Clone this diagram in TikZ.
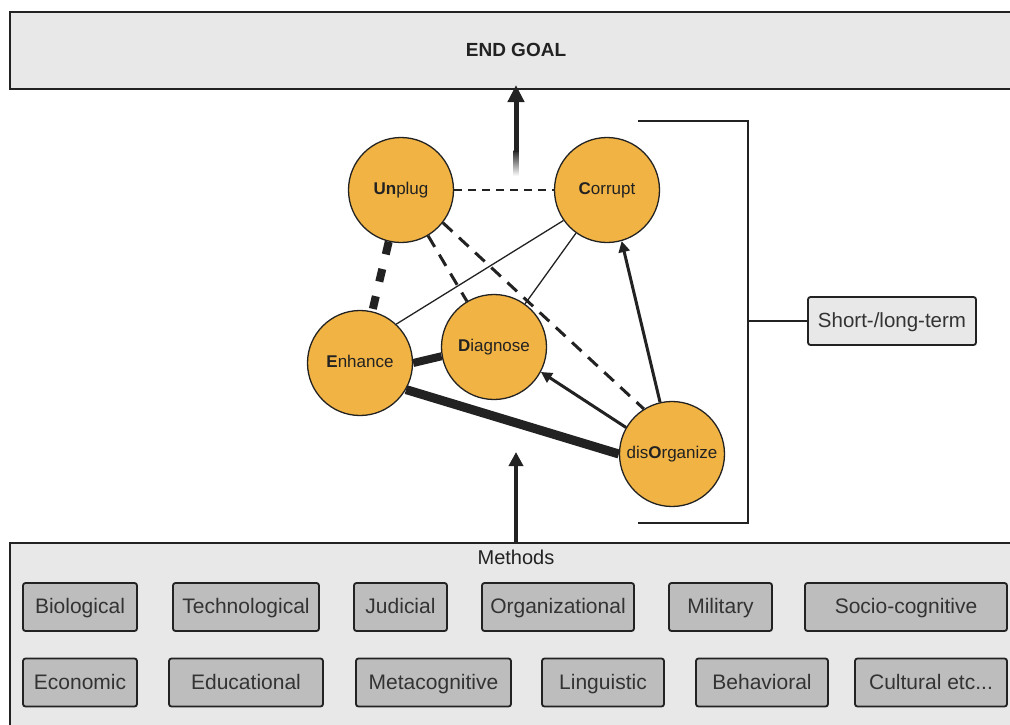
\documentclass[tikz,border=0pt]{standalone}
\usepackage{fontspec}
\setmainfont{Liberation Sans}
\usetikzlibrary{arrows.meta,backgrounds}
\definecolor{orng}{HTML}{F1B343}
\definecolor{lgray}{HTML}{E8E8E8}
\definecolor{mgray}{HTML}{BDBDBD}
\definecolor{ink}{HTML}{222222}
\definecolor{txt}{HTML}{333333}
\tikzset{
  circ/.style={circle, minimum size=105pt, inner sep=0pt, fill=orng, draw=ink, line width=1.3pt, font=\fontsize{17}{19}\selectfont, text=ink, text height=12pt, text depth=4pt},
  bigbox/.style={draw=ink, fill=lgray, line width=1.6pt},
  meth/.style={draw=ink, fill=mgray, line width=1.8pt, rounded corners=2.5pt, minimum height=48pt, inner sep=0pt, font=\fontsize{21}{23}\selectfont, text=txt, text height=18pt, text depth=4.5pt},
  slbox/.style={draw=ink, fill=lgray, line width=1.8pt, rounded corners=2.5pt, minimum height=48pt, minimum width=168pt, inner sep=0pt, font=\fontsize{20.5}{23}\selectfont, text=txt, text height=17pt, text depth=4.5pt},
  thin/.style={draw=ink, line width=1.3pt},
  arr/.style={draw=ink, line width=3pt, -{Triangle[width=11pt,length=11pt]}},
}
\begin{document}
\begin{tikzpicture}[x=1pt,y=-1pt]
\useasboundingbox (0,0) rectangle (1010,724);
% END GOAL box
\draw[bigbox] (10,12) rectangle (1016,89);
\node[font=\bfseries\fontsize{19}{21}\selectfont, text=ink] (eg) at (516,50) {END GOAL};
\coordinate (egb) at (516,89);
% Methods box
\draw[bigbox] (10,543) rectangle (1016,732);
\node[font=\fontsize{20}{22}\selectfont, text=ink] (mt) at (516,557) {Methods};
\coordinate (mtop) at (516,543);
% top arrow with fading tail
\shade[top color=ink, bottom color=white] (513.5,150) rectangle (518.5,176);
\coordinate (ta) at (516,152);
\draw[draw=ink, line width=5pt, -{Triangle[width=16pt,length=17pt]}] (ta) -- ([yshift=4pt]egb);
% bottom arrow
\coordinate (ba) at (516,452);
\draw[draw=ink, line width=4pt, -{Triangle[width=14pt,length=14pt]}] (mtop) -- (ba);
% circles
\node[circ] (U) at (401,190) {\textbf{Un}plug};
\node[circ] (C) at (607,190) {\textbf{C}orrupt};
\node[circ] (E) at (360,363) {\textbf{E}nhance};
\node[circ] (D) at (494,347) {\textbf{D}iagnose};
\node[circ] (O) at (672,454) {dis\textbf{O}rganize};
% edges
\begin{scope}[on background layer]
\draw[draw=ink, line width=1.5pt, dash pattern=on 8pt off 6pt] (U) -- (C);
\draw[draw=ink, line width=8pt, dash pattern=on 13pt off 15pt] (U) -- (E);
\draw[draw=ink, line width=3pt, dash pattern=on 13pt off 9pt] (U) -- (D);
\draw[draw=ink, line width=3pt, dash pattern=on 13pt off 9pt] (U.-38) -- (O.122);
\draw[thin] (C.215) -- (E.47);
\draw[thin] (C) -- (D);
\draw[draw=ink, line width=8pt] (E.east) -- (D.190);
\draw[draw=ink, line width=9pt] (E.-30) -- (O.west);
\end{scope}
\draw[arr] (O.103) -- (C.-74);
\draw[arr] (O.150) -- (D.-28);
% bracket
\coordinate (bt1) at (638,121);
\coordinate (bt2) at (748,121);
\coordinate (bb2) at (748,523);
\coordinate (bb1) at (638,523);
\coordinate (bm) at (748,321);
\draw[draw=ink, line width=1.8pt] (bt1) -- (bt2) -- (bb2) -- (bb1);
\node[slbox] (sl) at (892,321) {Short-/long-term};
\draw[draw=ink, line width=1.8pt] (bm) -- (sl.west);
% method boxes
\node[meth, minimum width=114pt] (m1) at (80,607) {Biological};
\node[meth, minimum width=146pt] (m2) at (246,607) {Technological};
\node[meth, minimum width=93pt] (m3) at (400.5,607) {Judicial};
\node[meth, minimum width=152pt] (m4) at (558,607) {Organizational};
\node[meth, minimum width=103pt] (m5) at (720.5,607) {Military};
\node[meth, minimum width=202pt] (m6) at (906,607) {Socio-cognitive};
\node[meth, minimum width=114pt] (n1) at (80,682.5) {Economic};
\node[meth, minimum width=154pt] (n2) at (246,682.5) {Educational};
\node[meth, minimum width=155pt] (n3) at (433.5,682.5) {Metacognitive};
\node[meth, minimum width=122pt] (n4) at (603,682.5) {Linguistic};
\node[meth, minimum width=132pt] (n5) at (762,682.5) {Behavioral};
\node[meth, minimum width=152pt] (n6) at (931,682.5) {Cultural etc...};
\end{tikzpicture}
\end{document}
